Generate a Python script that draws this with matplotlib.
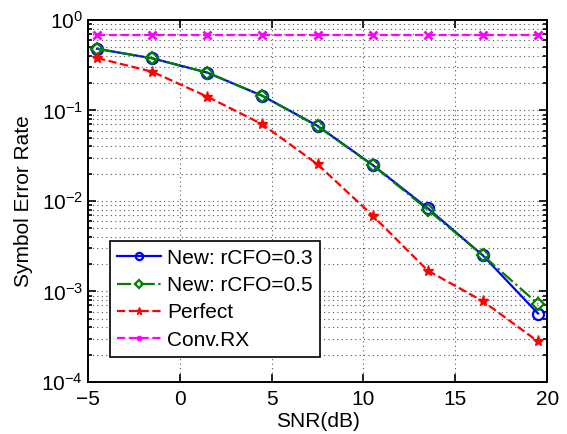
import matplotlib
matplotlib.use("Agg")
import matplotlib.pyplot as plt
from matplotlib.ticker import LogLocator, FixedLocator, NullFormatter

plt.rcParams['font.family'] = ['Liberation Sans', 'DejaVu Sans']
plt.rcParams['mathtext.fontset'] = 'custom'
plt.rcParams['mathtext.rm'] = 'Liberation Sans'
plt.rcParams['mathtext.it'] = 'Liberation Sans'
plt.rcParams['mathtext.default'] = 'regular'

snr = [-4.5, -1.5, 1.5, 4.5, 7.5, 10.5, 13.5, 16.5, 19.5]
new_03 = [0.48, 0.377, 0.262, 0.145, 0.0676, 0.025, 0.0083, 0.0025, 0.00057]
new_05 = [0.48, 0.377, 0.262, 0.145, 0.0670, 0.0248, 0.0080, 0.0025, 0.00073]
perfect = [0.38, 0.268, 0.142, 0.0703, 0.0254, 0.0069, 0.0017, 0.00078, 0.00028]
conv_rx = [0.69, 0.69, 0.69, 0.69, 0.69, 0.69, 0.69, 0.69, 0.69]
labels = ['New: rCFO=0.3', 'New: rCFO=0.5', 'Perfect', 'Conv.RX']
xticks = [-5, 0, 5, 10, 15, 20]

fig = plt.figure(figsize=(5.67, 4.34), dpi=100)
ax = fig.add_axes([0.155, 0.12, 0.81, 0.834])

ax.semilogy(snr, new_03, '-', color='#0000ff', marker='o', mfc='none', ms=8, mew=1.6, lw=1.6, label=labels[0])
ax.semilogy(snr, new_05, '-.', color='#008000', marker='D', mfc='none', ms=6.5, mew=1.6, lw=1.6, label=labels[1])
ax.semilogy(snr, perfect, '--', color='#ff0000', marker='*', ms=8, mew=1.0, lw=1.6, label=labels[2])
ax.semilogy(snr, conv_rx, '--', color='#ff00ff', marker='x', ms=5.5, mew=2.0, lw=1.6, label=labels[3])

ax.set_xlim(-5, 20)
ax.set_ylim(1e-4, 1)
ax.xaxis.set_major_locator(FixedLocator(xticks))
ax.yaxis.set_major_locator(LogLocator(base=10, numticks=10))
ax.yaxis.set_minor_locator(LogLocator(base=10, subs=range(2, 10), numticks=20))
ax.yaxis.set_minor_formatter(NullFormatter())

ax.grid(True, which='major', axis='both', linestyle=(0, (1, 3)), color='#555555', lw=0.8)
ax.grid(True, which='minor', axis='y', linestyle=(0, (1, 3)), color='#555555', lw=0.8)

ax.tick_params(which='both', direction='in', top=True, right=True, labelsize=15, width=1.2)
ax.tick_params(which='major', length=6)
ax.tick_params(which='minor', length=3)
ax.tick_params(axis='x', pad=6)
for s in ax.spines.values():
    s.set_linewidth(1.4)

ax.set_xlabel('SNR(dB)', fontsize=15, labelpad=2)
ax.set_ylabel('Symbol Error Rate', fontsize=15, labelpad=6)

leg = ax.legend(loc='lower left', bbox_to_anchor=(0.048, 0.069), fontsize=15, frameon=True,
                fancybox=False, edgecolor='black', framealpha=1, borderpad=0.35,
                labelspacing=0.4, handlelength=2.1, handletextpad=0.3, borderaxespad=0,
                markerscale=0.65)
leg.get_frame().set_linewidth(1.2)

fig.savefig('out.png', dpi=100)
